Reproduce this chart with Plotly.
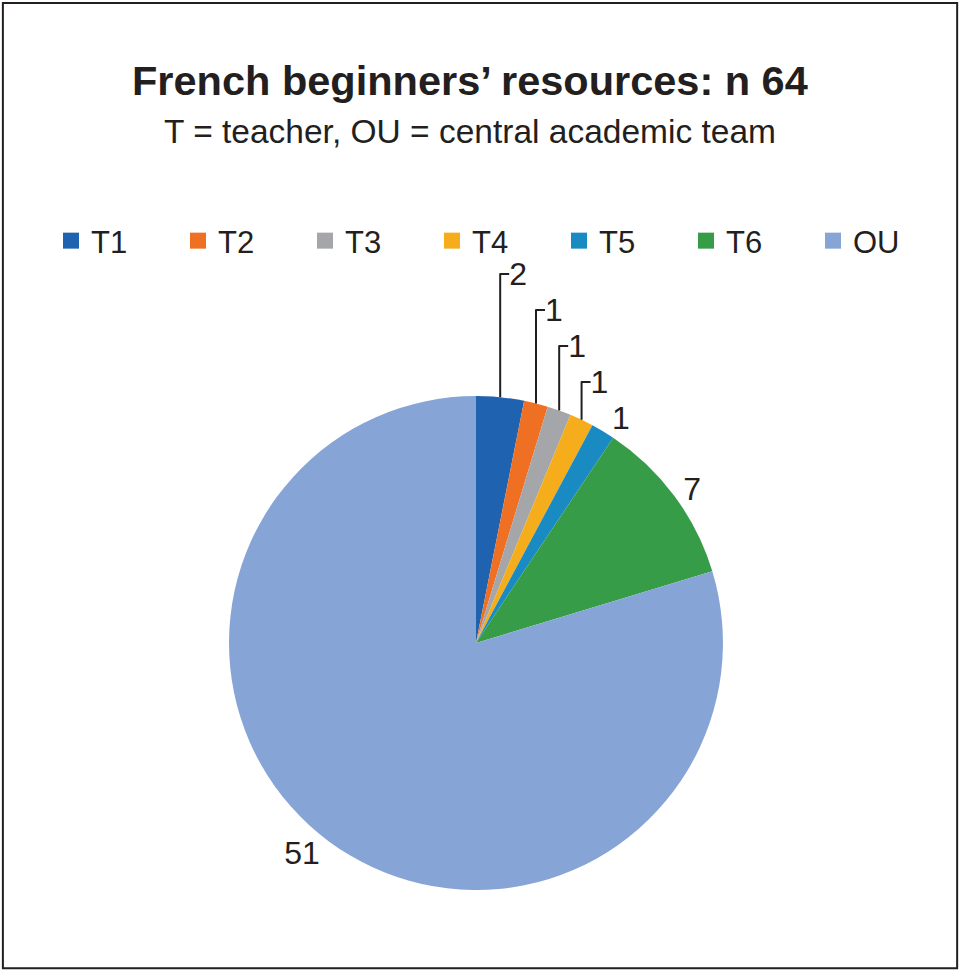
import plotly.graph_objects as go

# Werte aus dem Diagramm
kategorien = ["T1", "T2", "T3", "T4", "T5", "T6", "OU"]
werte = [2, 1, 1, 1, 1, 7, 51]
farben = ["#1F63B0", "#EF7023", "#A5A6A9", "#F5AD1C", "#1A8AC3", "#379C47", "#87A4D6"]

titel = "French beginners’ resources: n 64"
untertitel = "T = teacher, OU = central academic team"

schrift = "Liberation Sans, Arial, Helvetica, sans-serif"
textfarbe = "#231F20"

fig = go.Figure()

fig.add_trace(go.Pie(
    labels=kategorien,
    values=werte,
    sort=False,
    direction="clockwise",
    rotation=0,
    marker=dict(colors=farben, line=dict(width=0)),
    textinfo="value",
    textposition="outside",
    textfont=dict(size=32, color=textfarbe, family=schrift),
    showlegend=False,
    hoverinfo="label+value",
    domain=dict(x=[0.2383, 0.7523], y=[0.0853, 0.5930]),
))

# Legende mit groesseren Quadraten (Dummy-Traces)
for name, farbe in zip(kategorien, farben):
    fig.add_trace(go.Scatter(
        x=[None], y=[None], mode="markers", name=name,
        marker=dict(symbol="square", size=16, color=farbe),
        showlegend=True,
    ))

fig.update_layout(
    width=961,
    height=973,
    margin=dict(l=0, r=0, t=0, b=0),
    paper_bgcolor="white",
    plot_bgcolor="white",
    font=dict(family=schrift, color=textfarbe),
    xaxis=dict(visible=False),
    yaxis=dict(visible=False),
    legend=dict(
        orientation="h",
        x=0.5 + 15 / 961, xanchor="center",
        y=1 - 241 / 973, yanchor="middle",
        font=dict(size=31, family=schrift, color=textfarbe),
        entrywidth=82,
        bgcolor="rgba(0,0,0,0)",
        itemclick=False,
    ),
    annotations=[
        dict(text="<b>" + titel + "</b>", x=470 / 961, y=1 - 80 / 973, xref="paper", yref="paper",
             showarrow=False, font=dict(size=41.5, family=schrift, color=textfarbe),
             xanchor="center", yanchor="middle"),
        dict(text=untertitel, x=470 / 961, y=1 - 131 / 973, xref="paper", yref="paper",
             showarrow=False, font=dict(size=33.5, family=schrift, color=textfarbe),
             xanchor="center", yanchor="middle"),
    ],
    shapes=[
        dict(type="rect", xref="paper", yref="paper", x0=0.003, x1=0.996, y0=0.005, y1=0.997,
             line=dict(color=textfarbe, width=2)),
    ],
)

fig.write_html("out.html", config={"displayModeBar": False},
               post_script="document.body.style.margin='0';")
